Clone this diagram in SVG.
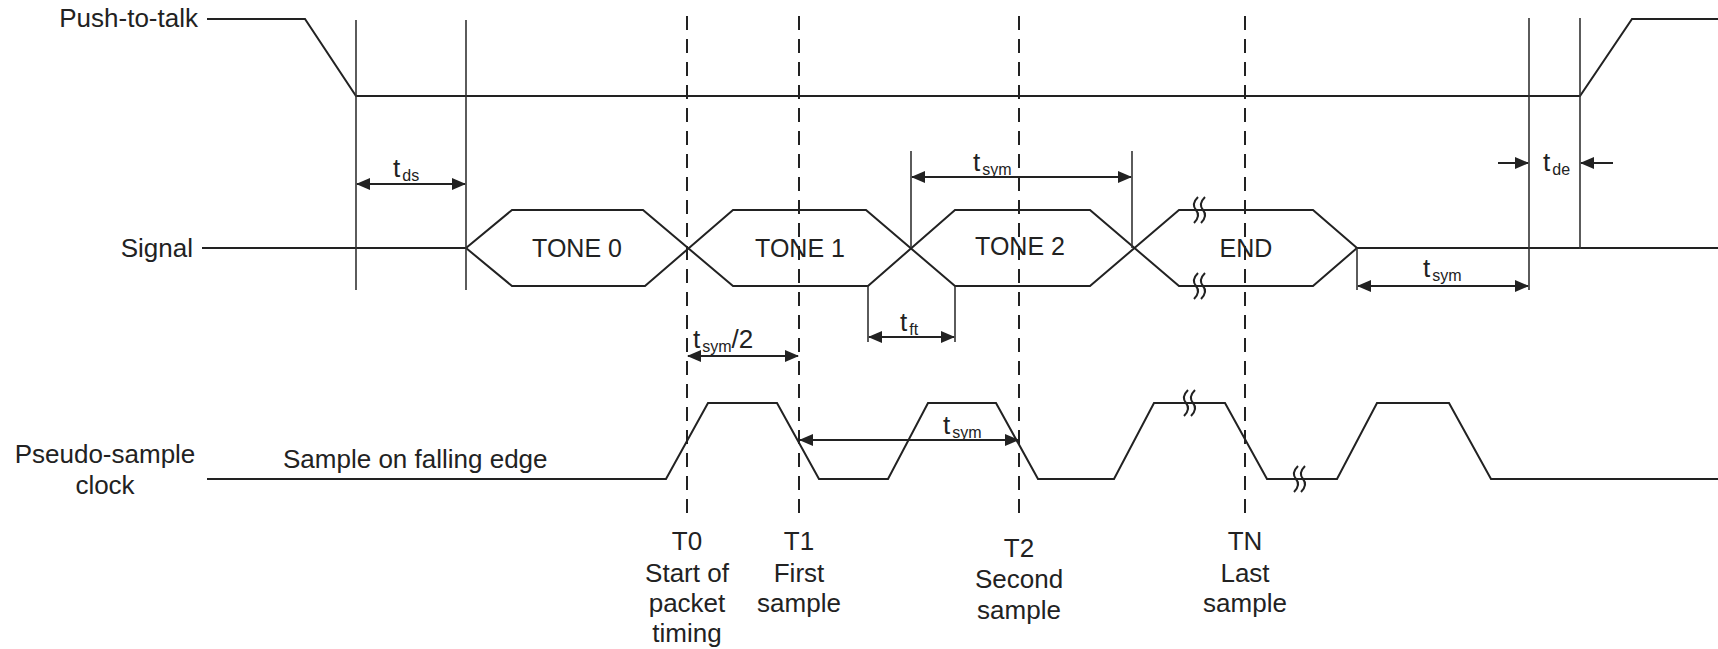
<svg xmlns="http://www.w3.org/2000/svg" xmlns:xlink="http://www.w3.org/1999/xlink" width="1718" height="649" viewBox="0 0 1718 649">
<style>
text{font-family:"Liberation Sans",Arial,Helvetica,sans-serif;fill:#222;font-size:26px}
.sub{font-size:16px}
.tone{font-size:25px;text-anchor:middle}
.mid{text-anchor:middle}
.end{text-anchor:end}
.w{fill:none;stroke:#222;stroke-width:2;stroke-linejoin:miter}
.v{stroke:#333;stroke-width:1.6}
.d{stroke:#222;stroke-width:2;stroke-dasharray:14 9}
.a{stroke:#222;stroke-width:2;marker-start:url(#ah);marker-end:url(#ah)}
.a1{stroke:#222;stroke-width:2;marker-end:url(#ah)}
.brk{fill:none;stroke:#222;stroke-width:2}
</style>
<defs>
<marker id="ah" markerUnits="userSpaceOnUse" markerWidth="14" markerHeight="12" refX="13" refY="6" orient="auto-start-reverse">
<path d="M0,0 L14,6 L0,12 z" fill="#222"/>
</marker>
<g id="brkmark">
<path class="brk" d="M-1,-13 Q-8,-6 -3,0 Q2,6 -5,13"/>
<path class="brk" d="M6,-13 Q-1,-6 4,0 Q9,6 2,13"/>
</g>
</defs>
<rect width="1718" height="649" fill="#fff"/>

<g id="ptt">
<text class="end" x="198" y="27">Push-to-talk</text>
<path class="w" d="M207,19 H305 L356,96 H1580 L1632,19 H1718"/>
</g>

<g id="signal">
<text class="end" x="193" y="257">Signal</text>
<path class="w" d="M202,248 H466 L512,210 H643 L733,286 H868 L955,210 H1090 L1179,286 H1313 L1357,248 H1718"/>
<path class="w" d="M466,248 L512,286 H645 L733,210 H866 L955,286 H1090 L1179,210 H1313 L1357,248"/>
<use xlink:href="#brkmark" x="1199" y="210"/>
<use xlink:href="#brkmark" x="1199" y="286"/>
</g>
<g id="tone0"><text class="tone" x="577" y="257">TONE 0</text></g>
<g id="tone1"><text class="tone" x="800" y="257">TONE 1</text></g>
<g id="tone2"><text class="tone" x="1020" y="255">TONE 2</text></g>
<g id="end"><text class="tone" x="1246" y="257">END</text></g>

<g id="clock">
<text class="mid" x="105" y="463">Pseudo-sample</text>
<text class="mid" x="105" y="494">clock</text>
<text x="283" y="468">Sample on falling edge</text>
<path class="w" d="M207,479 H666 L708,403 H777 L819,479 H888 L928,403 H996 L1038,479 H1114 L1154,403 H1225 L1267,479 H1337 L1377,403 H1449 L1491,479 H1718"/>
<use xlink:href="#brkmark" x="1189" y="403"/>
<use xlink:href="#brkmark" x="1299" y="479"/>
</g>

<g id="T0">
<text class="mid" x="687" y="550">T0</text>
<text class="mid" x="687" y="582">Start of</text>
<text class="mid" x="687" y="612">packet</text>
<text class="mid" x="687" y="642">timing</text>
</g>
<g id="T1">
<text class="mid" x="799" y="550">T1</text>
<text class="mid" x="799" y="582">First</text>
<text class="mid" x="799" y="612">sample</text>
</g>
<g id="T2">
<text class="mid" x="1019" y="557">T2</text>
<text class="mid" x="1019" y="588">Second</text>
<text class="mid" x="1019" y="619">sample</text>
</g>
<g id="TN">
<text class="mid" x="1245" y="550">TN</text>
<text class="mid" x="1245" y="582">Last</text>
<text class="mid" x="1245" y="612">sample</text>
</g>

<g id="connectors">
<line class="v" x1="356" y1="20" x2="356" y2="290"/>
<line class="v" x1="466" y1="20" x2="466" y2="290"/>
<line class="v" x1="911" y1="151" x2="911" y2="248"/>
<line class="v" x1="1132" y1="151" x2="1132" y2="248"/>
<line class="v" x1="868" y1="286" x2="868" y2="342"/>
<line class="v" x1="955" y1="286" x2="955" y2="342"/>
<line class="v" x1="1357" y1="248" x2="1357" y2="290"/>
<line class="v" x1="1529" y1="18" x2="1529" y2="290"/>
<line class="v" x1="1580" y1="18" x2="1580" y2="249"/>

<line class="d" x1="687" y1="16" x2="687" y2="520"/>
<line class="d" x1="799" y1="16" x2="799" y2="520"/>
<line class="d" x1="1019" y1="16" x2="1019" y2="520"/>
<line class="d" x1="1245" y1="16" x2="1245" y2="520"/>

<line class="a" x1="357" y1="184" x2="465" y2="184"/>
<line class="a" x1="912" y1="177" x2="1131" y2="177"/>
<line class="a" x1="688" y1="356" x2="798" y2="356"/>
<line class="a" x1="869" y1="337" x2="954" y2="337"/>
<line class="a" x1="800" y1="440" x2="1018" y2="440"/>
<line class="a" x1="1358" y1="286" x2="1528" y2="286"/>
<line class="a1" x1="1498" y1="163" x2="1528" y2="163"/>
<line class="a1" x1="1613" y1="163" x2="1581" y2="163"/>
</g>

<g id="labels">
<text x="393" y="177">t<tspan class="sub" dx="2" dy="4">ds</tspan></text>
<text x="973" y="171">t<tspan class="sub" dx="2" dy="4">sym</tspan></text>
<text x="693" y="348">t<tspan class="sub" dx="2" dy="4">sym</tspan><tspan dy="-4">/2</tspan></text>
<text x="900" y="331">t<tspan class="sub" dx="2" dy="4">ft</tspan></text>
<text x="943" y="434">t<tspan class="sub" dx="2" dy="4">sym</tspan></text>
<text x="1423" y="277">t<tspan class="sub" dx="2" dy="4">sym</tspan></text>
<text x="1543" y="171">t<tspan class="sub" dx="2" dy="4">de</tspan></text>
</g>
</svg>
